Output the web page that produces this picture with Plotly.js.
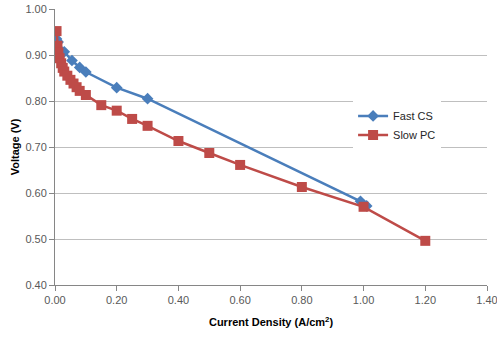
<!DOCTYPE html>
<html>
<head>
<meta charset="utf-8">
<script src="https://cdn.plot.ly/plotly-3.0.1.min.js"></script>
<style>html,body{margin:0;padding:0;background:#fff;}#chart{width:497px;height:338px;}</style>
</head>
<body>
<div id="chart"></div>
<script>
var fastX = [0.005, 0.01, 0.03, 0.055, 0.08, 0.10, 0.20, 0.30, 0.99, 1.01];
var fastY = [0.935, 0.928, 0.907, 0.888, 0.873, 0.863, 0.829, 0.805, 0.582, 0.572];
var slowX = [0.005, 0.008, 0.011, 0.015, 0.02, 0.025, 0.03, 0.04, 0.05, 0.06, 0.07, 0.08, 0.10, 0.15, 0.20, 0.25, 0.30, 0.40, 0.50, 0.60, 0.80, 1.00, 1.20];
var slowY = [0.952, 0.920, 0.905, 0.893, 0.882, 0.872, 0.864, 0.855, 0.846, 0.838, 0.830, 0.822, 0.813, 0.791, 0.779, 0.761, 0.746, 0.713, 0.687, 0.661, 0.613, 0.570, 0.496];
var xTicks = [0, 0.2, 0.4, 0.6, 0.8, 1.0, 1.2, 1.4];
var yTicks = [0.4, 0.5, 0.6, 0.7, 0.8, 0.9, 1.0];
var names = ['Fast CS', 'Slow PC'];

var font = 'Liberation Sans, Arial, sans-serif';
var traces = [
  {x: fastX, y: fastY, name: names[0], type: 'scatter', mode: 'lines+markers',
   line: {color: '#4A7EBB', width: 2.5}, marker: {symbol: 'diamond', size: 9, color: '#4A7EBB'}},
  {x: slowX, y: slowY, name: names[1], type: 'scatter', mode: 'lines+markers',
   line: {color: '#BE4B48', width: 2.5}, marker: {symbol: 'square', size: 10, color: '#BE4B48'}}
];
var layout = {
  width: 497, height: 338,
  margin: {l: 55, r: 10, t: 9, b: 53},
  paper_bgcolor: '#fff', plot_bgcolor: '#fff',
  font: {family: font, size: 11, color: '#595959'},
  showlegend: true,
  legend: {x: 0.69, y: 0.665, xanchor: 'left', yanchor: 'top', bgcolor: '#fff',
           font: {family: font, size: 11, color: '#262626'}, itemwidth: 30, tracegroupgap: 4},
  xaxis: {range: [0, 1.4], tickvals: xTicks, ticktext: xTicks.map(function(v){return v.toFixed(2);}),
          showgrid: false, zeroline: false, showline: true, linecolor: '#868686', linewidth: 1,
          ticks: 'outside', ticklen: 5, tickcolor: '#868686', ticklabeloverflow: 'allow',
          title: {text: '<b>Current Density (A/cm<sup>2</sup>)</b>', font: {family: font, size: 11, color: '#000'}, standoff: 13}},
  yaxis: {range: [0.4, 1.0], tickvals: yTicks, ticktext: yTicks.map(function(v){return v.toFixed(2);}),
          showgrid: true, gridcolor: '#BFBFBF', gridwidth: 1, zeroline: false,
          showline: true, linecolor: '#868686', linewidth: 1,
          ticks: 'outside', ticklen: 5, tickcolor: '#868686',
          title: {text: '<b>Voltage (V)</b>', font: {family: font, size: 11, color: '#000'}, standoff: 3}}
};
Plotly.newPlot('chart', traces, layout, {displayModeBar: false, staticPlot: true});
</script>
</body>
</html>
